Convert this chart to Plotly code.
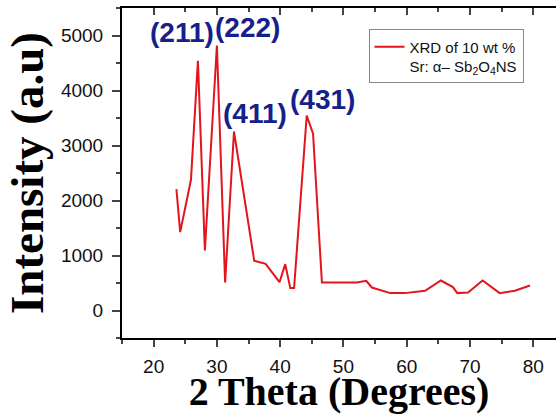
import plotly.graph_objects as go

# XRD pattern
two_theta = [23.6, 24.2, 25.9, 27.0, 28.1, 30.0, 31.3, 32.7, 35.9, 37.7,
             39.9, 40.8, 41.6, 42.2, 44.2, 45.2, 46.6, 52.1, 53.6, 54.5,
             57.4, 59.7, 62.9, 65.4, 67.3, 68.0, 69.7, 72.0, 74.7, 77.1, 79.5]
intensity = [2207, 1425, 2376, 4540, 1091, 4818, 509, 3255, 904, 849,
             515, 843, 407, 407, 3545, 3213, 509, 509, 540, 418,
             316, 316, 358, 545, 425, 316, 327, 545, 316, 358, 455]

peak_labels = ["(211)", "(222)", "(411)", "(431)"]
label_x = [24.5, 34.8, 36.1, 46.7]
label_y = [5050, 5140, 3590, 3830]

x_ticks = [20, 30, 40, 50, 60, 70, 80]
y_ticks = [0, 1000, 2000, 3000, 4000, 5000]

fig = go.Figure()
fig.add_trace(go.Scatter(
    x=two_theta, y=intensity, mode="lines",
    line=dict(color="#e3141b", width=2),
    name="XRD of 10 wt %<br>Sr: \u03b1\u2013 Sb<sub>2</sub>O<sub>4</sub>NS",
))
# invisible trace to carry the top axis with inward ticks
fig.add_trace(go.Scatter(x=[two_theta[0]], y=[intensity[0]], xaxis="x2",
                         mode="markers", marker=dict(opacity=0),
                         showlegend=False, hoverinfo="skip"))

for txt, lx, ly in zip(peak_labels, label_x, label_y):
    fig.add_annotation(x=lx, y=ly, text="<b>%s</b>" % txt, showarrow=False,
                       font=dict(family="Liberation Sans, Arial", size=28, color="#16208a"))

axis_font = dict(family="Liberation Sans, Arial", size=19, color="#111")
serif = "Liberation Serif, Times New Roman"

fig.update_layout(
    width=556, height=414,
    margin=dict(l=122, r=0, t=8, b=76, autoexpand=False),
    plot_bgcolor="white", paper_bgcolor="white",
    showlegend=True,
    legend=dict(x=0.568, y=0.935, xanchor="left", yanchor="top",
                bordercolor="#888", borderwidth=1, bgcolor="white",
                valign="top", tracegroupgap=0,
                font=dict(family="Liberation Sans, Arial", size=15, color="#111")),
    xaxis=dict(range=[15, 83.6], tickvals=x_ticks, ticks="outside", ticklen=7,
               tickwidth=2, showline=True, linewidth=2, linecolor="black",
               showgrid=False, zeroline=False, tickfont=axis_font, automargin=False,
               ticklabelstandoff=3,
               minor=dict(ticks="outside", dtick=5, tick0=15, ticklen=4, tickwidth=2),
               title=dict(text="<b>2 Theta (Degrees)</b>",
                          font=dict(family=serif, size=40, color="black"), standoff=3)),
    xaxis2=dict(overlaying="x", side="top", matches="x", range=[15, 83.6],
                tickvals=x_ticks, ticks="inside", ticklen=7, tickwidth=2,
                showline=True, linewidth=2, linecolor="black", automargin=False,
                showticklabels=False, showgrid=False, zeroline=False,
                minor=dict(ticks="inside", dtick=5, tick0=15, ticklen=4, tickwidth=2)),
    yaxis=dict(range=[-500, 5500], tickvals=y_ticks, ticks="outside", ticklen=8,
               tickwidth=2, showline=True, linewidth=2, linecolor="black",
               showgrid=False, zeroline=False, tickfont=axis_font, automargin=False,
               ticklabelstandoff=5,
               minor=dict(ticks="outside", dtick=500, tick0=-500, ticklen=4, tickwidth=2),
               title=dict(text="<b>Intensity (a.u)</b>",
                          font=dict(family=serif, size=47, color="black"), standoff=2)),
)

# the page body has a default 8px margin; drop it so the figure sits at 0,0
fig.write_html("out.html", config={"displayModeBar": False},
               post_script="document.body.style.margin='0';")
